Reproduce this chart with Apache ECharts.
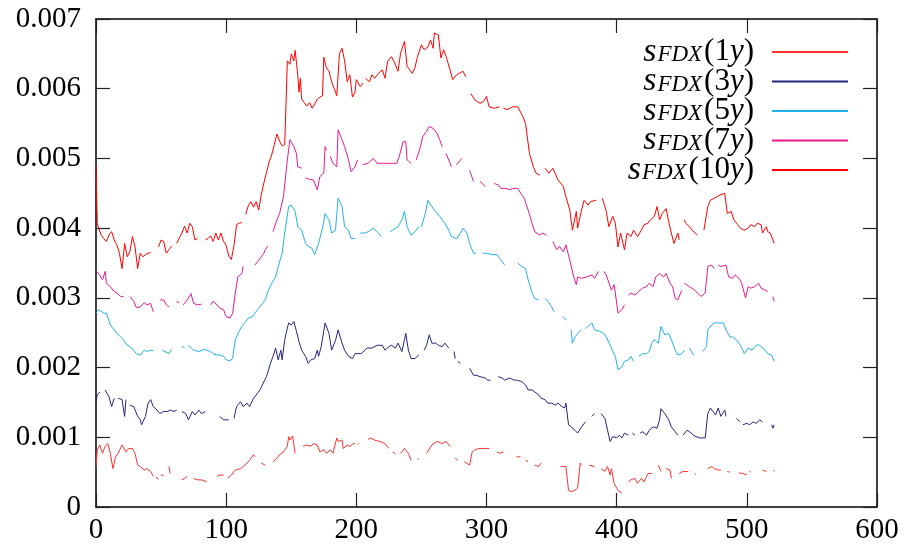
<!DOCTYPE html>
<html>
<head>
<meta charset="utf-8">
<script src="https://cdn.jsdelivr.net/npm/echarts@6/dist/echarts.min.js"></script>
<style>html,body{margin:0;padding:0;background:#fff;}#c{width:907px;height:553px;}</style>
</head>
<body>
<div id="c"></div>
<script>
const xTicks = [0, 100, 200, 300, 400, 500, 600];
const yTicks = [0, 0.001, 0.002, 0.003, 0.004, 0.005, 0.006, 0.007];
const seriesNames = ['1y', '3y', '5y', '7y', '10y'];

const s1y = [[0,0.00058],[1,0.00082],[3,0.00089],[5,0.00077],[7,0.00087],[9,0.00091],[11,0.00077],[13,0.00055],[15,0.00072],[17,0.00077],[20,0.00089],[23,0.00079],[25,0.00084],[28,0.00084],[30,0.00077],[32,0.0006],[34,0.00058],[37,0.00053],[39,0.00055],[42,0.00051],[44,0.00044],[45,null],[46,0.00043],[48,0.0004],[49,null],[50,0.00046],[52,0.00045],[54,null],[56,0.00058],[57,0.00048],[58,null],[66,0.00039],[68,0.00041],[70,0.00044],[72,null],[75,0.00041],[78,0.00039],[80,0.00039],[83,0.00038],[85,0.00036],[87,null],[93,0.00044],[96,0.00046],[98,0.00046],[99,null],[101,0.00041],[104,0.00046],[107,0.00053],[111,0.00055],[113,0.00058],[116,0.00063],[118,0.00067],[121,0.00075],[122,0.00072],[125,null],[127,0.00063],[130,0.0006],[133,null],[136,0.00065],[139,0.0007],[141,0.00075],[144,0.00079],[147,0.00087],[148,0.00101],[149,0.00096],[151,0.00102],[153,0.00077],[156,null],[159,0.00087],[162,0.00089],[165,0.00087],[167,0.00091],[170,0.00089],[172,0.00079],[175,0.00082],[177,0.00077],[180,0.00082],[182,0.00077],[185,0.00099],[186,0.00094],[189,0.00096],[190,0.00084],[193,0.00089],[195,0.00087],[198,0.00091],[199,0.00091],[200,null],[201,0.0009],[202,0.00091],[205,null],[209,0.00097],[211,0.00099],[214,0.00096],[218,0.00094],[222,0.00091],[225,0.00084],[227,null],[228,0.00079],[230,0.00076],[231,null],[234,0.00077],[237,0.00084],[240,0.00077],[242,0.00067],[245,null],[247,0.0007],[248,0.00068],[250,null],[254,0.00077],[258,0.00089],[262,0.00094],[266,0.00091],[269,0.00094],[272,0.00087],[274,null],[276,0.0007],[278,0.00067],[281,null],[283,0.00065],[287,0.0006],[289,0.00079],[291,0.00082],[294,0.00084],[297,0.00084],[299,0.00084],[302,0.00084],[305,null],[308,0.00079],[310,0.00077],[313,0.00079],[315,null],[323,0.00072],[326,0.00072],[328,null],[330,0.00067],[332,0.00065],[334,null],[337,0.0006],[340,0.00058],[342,0.00063],[345,null],[357,0.00058],[361,0.00058],[363,0.00024],[365,0.00022],[368,0.00024],[370,0.00027],[372,0.00063],[373,0.0006],[375,null],[379,0.0006],[383,0.00058],[386,null],[388,0.00055],[391,0.00051],[393,0.00058],[395,0.00046],[396,0.00055],[398,0.00034],[399,0.00032],[401,0.00024],[404,0.0002],[406,null],[409,0.00036],[411,0.00039],[414,0.00041],[416,0.00034],[419,0.00041],[421,0.00036],[424,0.00048],[427,0.00048],[429,null],[432,0.0006],[434,0.00051],[436,null],[438,0.00055],[441,0.00053],[442,0.00041],[445,null],[448,0.00048],[451,0.00051],[455,0.00051],[457,null],[460,0.00048],[461,0.00046],[463,null],[470,0.00055],[473,0.00058],[475,0.00055],[478,0.00053],[480,0.00053],[482,null],[485,0.00051],[487,0.0005],[488,null],[494,0.00049],[497,0.00048],[500,0.00046],[501,null],[502,0.00051],[503,0.0005],[505,null],[512,0.00053],[515,0.00051],[517,null],[520,0.00053],[521,0.00051]];

const s3y = [[0,0.00151],[1,0.00161],[3,0.00165],[5,null],[7,0.00168],[10,0.00158],[12,0.00144],[14,0.00156],[16,null],[17,0.00156],[20,0.00154],[22,0.0013],[23,0.00154],[25,null],[26,0.00146],[29,0.00144],[32,0.0013],[34,0.00125],[35,0.00118],[38,0.0013],[40,0.00149],[42,0.00154],[44,0.00144],[47,0.00139],[49,0.00134],[52,0.00137],[55,0.00137],[57,0.00139],[60,0.00137],[62,0.00139],[64,null],[66,0.00137],[69,0.00134],[71,0.00125],[74,0.00137],[76,0.00132],[79,0.00139],[81,0.00134],[84,0.00137],[90,null],[95,0.0013],[98,0.00125],[99,0.00127],[102,0.00125],[104,null],[106,0.00127],[108,0.00144],[111,0.00151],[113,0.00144],[116,0.00149],[118,0.00144],[121,0.00156],[124,0.00163],[126,0.00168],[129,0.0018],[131,0.00187],[134,0.00206],[136,0.00216],[138,0.00228],[140,0.00211],[142,0.00225],[143,0.00211],[145,0.0024],[146,0.00249],[148,0.00264],[150,0.00261],[152,0.00266],[153,0.00268],[154,0.00252],[156,0.00237],[158,0.00225],[161,0.00216],[163,0.00206],[165,0.00211],[168,0.00213],[170,0.00225],[171,0.00216],[173,0.0023],[176,0.00264],[179,0.00249],[181,0.00225],[184,0.00239],[186,0.00254],[189,0.00235],[191,0.00225],[194,0.00216],[197,0.00213],[199,0.0022],[200,0.00218],[204,0.0022],[208,0.00228],[212,0.00228],[216,0.00232],[220,0.00232],[222,0.00225],[225,0.0023],[227,0.00232],[230,0.00228],[232,0.00235],[235,0.00223],[237,0.0024],[238,0.00249],[240,0.00225],[242,0.00213],[245,0.00213],[248,0.00218],[250,null],[252,0.00225],[254,0.00232],[256,0.00247],[258,0.00235],[261,0.00235],[263,0.00232],[266,0.0023],[268,0.00235],[271,0.00228],[273,null],[275,0.00223],[276,0.00213],[277,null],[278,0.00209],[280,0.00206],[283,null],[287,0.00199],[290,0.00189],[292,0.00189],[295,0.00187],[299,0.00185],[301,0.00182],[303,0.00182],[305,null],[309,0.00187],[312,0.00185],[314,0.00182],[318,0.00185],[321,0.00182],[323,0.00182],[327,0.0018],[330,0.00175],[332,0.00168],[335,0.00168],[337,0.00165],[340,0.00161],[342,0.00156],[345,0.00154],[347,0.00149],[350,0.00149],[353,0.00146],[355,0.00149],[358,0.00144],[360,0.00142],[361,0.00149],[363,0.00118],[365,0.00115],[368,0.0011],[370,0.00106],[373,0.00115],[376,0.00122],[378,null],[381,0.0013],[383,0.00134],[386,null],[388,0.00134],[391,0.00127],[393,0.0011],[395,0.00094],[397,0.00101],[400,0.00099],[402,0.00103],[404,0.00099],[406,0.00106],[409,0.00103],[410,null],[412,0.00106],[414,0.00103],[416,null],[418,0.00106],[420,0.00108],[423,0.00103],[425,0.0011],[428,0.00115],[431,0.00113],[433,0.00125],[434,0.00141],[437,0.00134],[440,0.00125],[442,0.00115],[445,0.00108],[447,0.00103],[449,null],[451,0.00103],[454,0.0011],[456,0.00108],[459,0.00103],[461,0.00101],[464,0.00099],[468,0.00099],[470,0.00134],[472,0.00142],[474,0.00137],[476,0.00132],[478,0.00142],[480,0.0013],[483,0.00139],[484,0.0013],[488,null],[492,0.00127],[495,0.00122],[496,null],[497,0.00118],[500,0.0012],[502,0.00118],[505,0.00122],[507,0.0012],[510,0.00125],[512,0.00122],[515,null],[519,0.00118],[520,0.00113],[521,0.00118]];

const s5y = [[0,0.00278],[2,0.00283],[6,0.00278],[8,0.00278],[11,0.00261],[14,0.00254],[16,0.00249],[19,0.00244],[21,0.0024],[24,0.00232],[26,0.0023],[29,0.00225],[31,0.0022],[34,0.00218],[37,0.00225],[39,0.00223],[42,0.00225],[44,0.00224],[47,null],[51,0.00225],[53,0.00223],[56,0.0022],[58,0.00226],[62,null],[66,0.0023],[68,0.00229],[69,null],[71,0.00232],[75,0.00225],[79,0.00223],[83,0.00226],[85,0.00225],[88,0.00223],[90,0.0022],[93,0.00218],[95,0.00218],[98,0.00216],[100,0.00211],[103,0.0021],[105,0.00213],[107,0.0024],[110,0.00252],[112,0.00259],[115,0.00266],[117,0.00271],[120,0.00273],[122,0.00278],[125,0.00285],[127,0.0029],[130,0.00297],[132,0.00309],[135,0.00321],[138,0.0033],[140,0.00345],[143,0.00364],[145,0.00393],[148,0.00431],[150,0.00433],[153,0.00424],[155,0.00402],[158,0.00397],[161,0.00378],[163,0.00374],[166,0.00371],[168,0.00362],[171,0.00378],[173,0.00393],[175,0.00409],[176,0.00421],[179,0.00412],[181,0.00393],[184,0.00397],[185,0.00421],[186,0.00443],[189,0.00431],[191,0.00402],[194,0.00397],[196,0.00385],[199,0.00385],[201,null],[203,0.00393],[207,0.00393],[211,0.00397],[213,0.004],[217,0.00393],[219,0.00388],[222,null],[226,0.00395],[230,0.004],[232,0.00402],[235,0.00412],[237,0.00424],[239,0.00402],[242,0.0039],[245,0.00395],[248,0.00402],[249,null],[250,0.00402],[253,0.00421],[255,0.0044],[258,0.00431],[260,0.00426],[264,0.00417],[268,0.00407],[271,0.00397],[273,0.00388],[277,0.00385],[280,0.00393],[282,0.004],[285,0.00393],[287,0.00378],[290,0.00364],[292,0.00364],[294,null],[297,0.00364],[300,0.00364],[304,0.00362],[308,0.00362],[310,0.00357],[314,0.00347],[318,null],[324,0.0035],[327,0.00345],[330,0.00342],[332,0.00326],[335,0.00307],[337,0.00299],[340,0.00297],[342,null],[345,0.00299],[348,0.00293],[350,0.00287],[352,0.0028],[355,null],[359,0.00273],[361,0.00268],[363,null],[365,0.00254],[366,0.00235],[368,0.00244],[370,0.00249],[373,0.00254],[374,null],[376,0.00256],[378,0.00259],[381,0.00264],[383,0.00254],[387,0.00252],[390,0.00249],[392,0.00244],[395,0.00232],[397,0.00223],[399,0.00216],[401,0.00197],[404,0.00201],[406,0.00209],[409,0.00211],[411,0.00216],[413,0.00209],[415,null],[417,0.00216],[420,0.0022],[423,0.0022],[425,0.00223],[427,0.00235],[429,0.0024],[432,0.00235],[434,0.00259],[437,0.00247],[440,0.00249],[442,0.0024],[445,0.00225],[447,0.00218],[450,0.0022],[452,0.00225],[454,null],[456,0.00228],[459,0.00218],[462,null],[466,0.00223],[469,0.0023],[470,0.00254],[473,0.00261],[475,0.00264],[478,0.00264],[482,0.00264],[484,0.00254],[487,0.00244],[489,0.00244],[492,0.0024],[495,0.00232],[497,0.00225],[498,0.0022],[501,0.00228],[504,0.00225],[506,0.0023],[509,0.00233],[511,0.0023],[514,0.00225],[516,0.0022],[519,0.00218],[521,0.00209]];

const s7y = [[0,0.00338],[2,0.00335],[5,0.00326],[7,0.00338],[8,0.00321],[11,0.00316],[14,0.00309],[16,0.00307],[19,0.00302],[21,0.00302],[23,null],[26,0.00302],[29,0.00295],[31,0.00286],[34,0.00287],[37,0.00293],[39,0.0029],[42,0.00292],[44,0.0028],[46,null],[49,0.00297],[52,0.00297],[54,0.0029],[56,0.00287],[59,null],[62,0.00295],[64,0.00293],[65,null],[67,0.0029],[70,0.00297],[73,0.00306],[75,0.00292],[78,0.0029],[81,0.00291],[84,null],[88,0.0029],[90,0.00295],[93,0.0029],[95,0.00285],[98,0.00283],[100,0.00273],[103,0.00271],[105,0.00278],[107,0.00307],[109,0.0033],[112,0.00335],[113,0.00345],[117,null],[122,0.00347],[125,0.00354],[127,0.00359],[129,0.00364],[130,0.00369],[132,0.00374],[134,null],[136,0.00395],[139,0.00412],[141,0.00421],[144,0.00445],[147,0.00498],[149,0.00527],[152,0.00517],[154,0.00507],[155,0.00488],[158,0.00486],[159,null],[161,0.00472],[164,0.0047],[167,0.00469],[170,0.00455],[172,0.00474],[175,0.00479],[176,0.00517],[177,0.00512],[178,null],[180,0.00503],[182,0.00493],[185,0.00488],[186,0.00541],[189,0.00527],[191,0.00517],[194,0.00498],[196,0.00481],[199,0.00488],[201,0.00498],[203,null],[205,0.00491],[209,0.00493],[213,0.005],[216,0.00493],[219,0.00493],[223,0.00493],[227,0.00493],[231,0.00493],[233,0.00503],[236,0.00524],[238,0.00524],[239,0.00498],[242,0.00493],[244,null],[246,0.00498],[249,0.00515],[251,0.00531],[254,0.00539],[256,0.00546],[259,0.00543],[262,0.00536],[264,0.00527],[266,0.00517],[268,null],[269,0.00507],[272,0.00493],[273,0.00488],[275,null],[277,0.00491],[281,0.005],[284,null],[287,0.00483],[290,0.00467],[292,null],[295,0.00467],[299,0.0046],[302,null],[306,0.00464],[309,0.00462],[311,0.00457],[315,0.00457],[318,0.00455],[320,0.00457],[324,0.00457],[327,0.00448],[329,0.00443],[332,0.00426],[335,0.00407],[337,0.00395],[341,0.0039],[343,0.00393],[346,0.0039],[348,null],[351,0.00381],[354,0.00369],[356,0.00374],[359,0.00366],[361,0.00376],[364,0.00354],[367,0.0033],[369,0.00319],[370,0.0033],[373,0.00328],[377,0.0033],[381,0.00333],[383,0.00328],[386,0.00338],[388,null],[390,0.00338],[392,0.00333],[395,0.00316],[396,0.00311],[398,0.00319],[399,0.00307],[401,0.00278],[404,0.00283],[406,0.0029],[407,null],[409,0.00304],[411,0.00307],[414,0.00304],[418,0.00311],[420,0.00314],[423,0.00316],[425,0.00321],[428,0.00316],[430,0.0033],[433,0.00335],[436,0.0033],[438,0.00335],[441,0.00321],[443,0.00316],[445,0.00299],[447,0.00297],[450,0.00311],[451,null],[452,0.00321],[456,0.00316],[460,0.00311],[462,0.00307],[465,0.00302],[468,0.00307],[470,0.00345],[473,0.00347],[475,0.00342],[476,null],[478,0.00347],[480,0.00345],[484,0.00347],[486,0.0033],[489,0.00328],[491,0.00333],[494,0.00328],[496,0.00321],[498,0.00307],[499,0.003],[501,0.00316],[503,0.00314],[506,0.00316],[509,0.00321],[511,0.00314],[514,0.00311],[516,0.00309],[518,null],[520,0.00302],[521,0.00295]];

const s10y = [[0,0.0049],[1,0.00407],[2,0.004],[4,0.0039],[6,0.00385],[8,0.00381],[10,0.0039],[12,0.00395],[14,0.00383],[16,0.00376],[18,0.00364],[20,0.00342],[22,0.00378],[24,0.00359],[26,0.00366],[28,0.00388],[30,0.00373],[32,0.00342],[34,0.00364],[36,0.00359],[38,0.00362],[40,0.00364],[42,0.00365],[45,null],[48,0.00373],[50,0.00383],[52,0.00381],[54,0.00364],[56,0.00369],[58,0.00374],[60,null],[62,0.00378],[64,0.00386],[66,0.00393],[68,0.00403],[70,0.00393],[72,0.00407],[74,0.00402],[76,0.00383],[78,0.00385],[81,null],[84,0.00383],[86,0.00385],[88,0.00389],[90,0.00381],[92,0.00393],[94,0.00383],[96,0.00393],[98,0.00381],[100,0.00375],[102,0.0036],[104,0.00355],[106,0.00375],[108,0.00405],[110,0.00407],[112,0.00408],[113.5,null],[115,0.0042],[117,0.00432],[119,0.00438],[121,0.0043],[123,0.00438],[125,0.00426],[127,0.00448],[129,0.00465],[131,0.0048],[133,0.00495],[135,0.00505],[137,0.0052],[139,0.00535],[141,0.00525],[143,0.00518],[145,0.0052],[146,0.0058],[147,0.0064],[149,0.00635],[150,0.0065],[152,0.0064],[153,0.00655],[155,0.0062],[156,0.00595],[157,0.00615],[158,0.00585],[160,0.0058],[162,0.00575],[164,0.0058],[166,0.00572],[168,0.00578],[170,0.00585],[172,0.00588],[174,0.0059],[175,0.00645],[177,0.0063],[179,0.00625],[181,0.0061],[183,0.006],[185,0.0059],[186,0.0062],[187,0.0065],[189,0.00658],[191,0.0064],[193,0.0061],[195,0.0062],[197,0.00588],[199,0.00595],[200,0.00613],[203,0.00603],[205,0.00608],[206,null],[207,0.00615],[210,0.0061],[212,0.0062],[214,0.00615],[217,0.00622],[220,0.00627],[222,0.00615],[224,0.00639],[227,0.00646],[229,0.00639],[232,0.00625],[234,0.00651],[237,0.00668],[239,0.00632],[241,0.00627],[243,0.00622],[245,0.0063],[247,0.00646],[250,0.00663],[252,0.00656],[255,0.0066],[257,0.0067],[259,0.00658],[260,0.0068],[263,0.00677],[265,0.00644],[267,0.00656],[269,0.00646],[272,0.00627],[274,0.00613],[277,0.0062],[279,0.00622],[282,0.00625],[284,0.00617],[286,null],[288,0.00593],[291,0.00584],[295,0.00579],[298,0.00582],[300,0.00589],[302,0.00574],[306,0.00572],[310,0.00574],[311,null],[313,0.00572],[316,0.0057],[320,0.00574],[324,0.00574],[328,0.0056],[330,0.0055],[333,0.00507],[336,0.00488],[338,0.00479],[341,0.00476],[343,null],[345,0.00486],[348,0.00479],[351,0.00486],[355,0.00469],[359,0.0046],[361,0.00445],[364,0.00426],[366,0.00397],[369,0.00424],[370,0.004],[373,0.00426],[375,0.0044],[378,0.00433],[380,0.00438],[384,0.0044],[387,null],[389,0.00443],[392,0.00424],[394,0.00402],[397,0.00417],[399,0.00407],[401,0.00373],[403,0.00393],[406,0.00369],[408,0.00393],[411,0.00388],[413,0.00397],[416,0.00388],[419,0.00397],[421,0.00405],[424,0.00407],[426,0.00412],[429,0.00417],[431,0.00431],[433,0.00412],[435,0.00421],[438,0.00428],[440,0.00409],[442,0.00393],[444,0.00378],[447,0.00393],[448,0.00383],[450,null],[452,0.00412],[453,0.00407],[456,0.00402],[458,0.00397],[462,0.0039],[465,null],[467,0.00397],[470,0.00431],[472,0.0044],[475,0.00443],[477,0.00445],[480,0.00448],[483,0.0045],[485,0.00421],[488,0.00424],[490,0.00412],[493,0.00405],[495,0.004],[498,0.00397],[501,0.004],[503,0.00405],[506,0.00402],[508,0.00407],[511,0.00405],[512,0.00393],[515,0.00402],[516,0.00395],[518,0.00393],[521,0.00378]];

const seriesData = [s1y, s3y, s5y, s7y, s10y];
const colors = ['#ff3030', '#25257f', '#1fb2ea', '#e8198f', '#ff0000'];

const FONT = "'Liberation Serif', 'Times New Roman', serif";
const chart = echarts.init(document.getElementById('c'), null, {renderer: 'canvas'});

function axisBase(extra) {
  return Object.assign({
    type: 'value',
    axisLine: {show: true, onZero: false, lineStyle: {color: '#000', width: 1.5}},
    axisTick: {show: true, inside: true, length: 14, lineStyle: {color: '#222', width: 1.2}},
    splitLine: {show: false}
  }, extra);
}

const tickRich = {t: {fontFamily: FONT, fontSize: 29, color: '#000'}};

const option = {
  animation: false,
  backgroundColor: '#fff',
  textStyle: {fontFamily: FONT},
  grid: {left: 96, right: 30, top: 19, bottom: 46},
  xAxis: [
    axisBase({position: 'bottom', min: xTicks[0], max: xTicks[xTicks.length - 1], interval: xTicks[1] - xTicks[0],
      axisLabel: {fontFamily: FONT, fontSize: 29, color: '#000', margin: 9,
        formatter: v => '{t|' + v + '}', rich: tickRich}}),
    axisBase({position: 'top', min: xTicks[0], max: xTicks[xTicks.length - 1], interval: xTicks[1] - xTicks[0],
      axisLabel: {show: false}})
  ],
  yAxis: [
    axisBase({position: 'left', min: yTicks[0], max: yTicks[yTicks.length - 1], interval: 0.001,
      axisLabel: {fontFamily: FONT, fontSize: 29, color: '#000', margin: 15,
        formatter: v => '{t|' + (Math.round(v * 1000) / 1000).toString() + '}', rich: tickRich}}),
    axisBase({position: 'right', min: yTicks[0], max: yTicks[yTicks.length - 1], interval: 0.001,
      axisLabel: {show: false}})
  ],
  legend: {
    orient: 'vertical',
    right: 59,
    top: 35,
    padding: 0,
    align: 'right',
    itemWidth: 76,
    itemHeight: 2,
    itemGap: -4.5,
    icon: 'rect',
    data: seriesNames,
    formatter: function (name) {
      const num = name.replace('y', '');
      return '{s|s}{sub|FDX}{p|(' + num + '}{i|y}{p|)}';
    },
    textStyle: {
      fontFamily: FONT, fontSize: 31, lineHeight: 29, color: '#000', padding: [0, 13, 0, 0],
      rich: {
        s: {fontFamily: FONT, fontStyle: 'italic', fontSize: 34, lineHeight: 29, color: '#000'},
        sub: {fontFamily: FONT, fontStyle: 'italic', fontSize: 23, lineHeight: 16, verticalAlign: 'bottom', color: '#000', padding: [0, 2, 0, 1]},
        p: {fontFamily: FONT, fontSize: 31, lineHeight: 29, color: '#000'},
        i: {fontFamily: FONT, fontStyle: 'italic', fontSize: 31, lineHeight: 29, color: '#000'}
      }
    }
  },
  series: seriesNames.map((n, k) => ({
    name: n,
    type: 'line',
    xAxisIndex: 0,
    yAxisIndex: 0,
    data: seriesData[k],
    showSymbol: false,
    symbol: 'none',
    connectNulls: false,
    color: colors[k],
    lineStyle: {width: 1, color: colors[k]},
    emphasis: {disabled: true}
  }))
};
chart.setOption(option);
</script>
</body>
</html>
